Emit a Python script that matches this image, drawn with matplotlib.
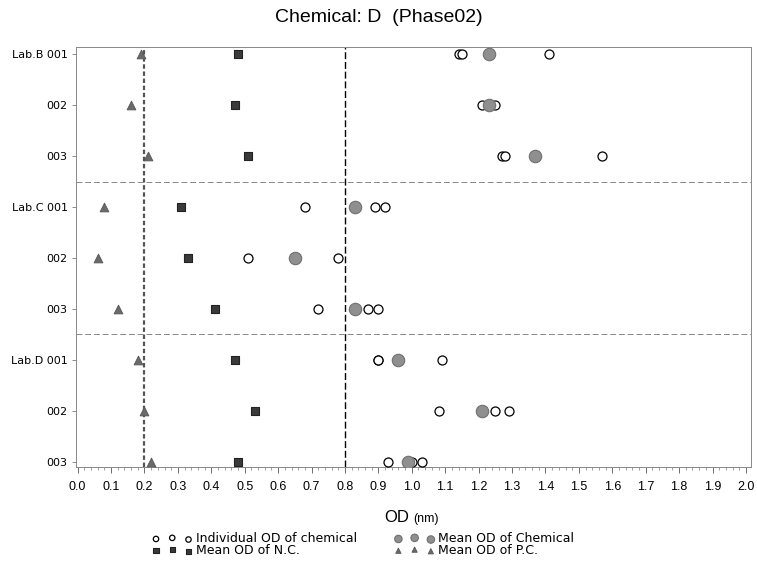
import matplotlib
matplotlib.use("Agg")
import matplotlib.pyplot as plt
from matplotlib.ticker import MultipleLocator

plt.rcParams['font.family'] = ['Liberation Sans', 'DejaVu Sans']

# rows (top to bottom)
row_labels = ["Lab.B 001", "002", "003",
              "Lab.C 001", "002", "003",
              "Lab.D 001", "002", "003"]

# individual OD of chemical, three per row
indiv_1 = [1.14, 1.21, 1.27, 0.68, 0.51, 0.72, 0.90, 1.08, 0.93]
indiv_2 = [1.15, 1.23, 1.28, 0.89, 0.65, 0.87, 0.90, 1.25, 1.00]
indiv_3 = [1.41, 1.25, 1.57, 0.92, 0.78, 0.90, 1.09, 1.29, 1.03]
mean_chem = [1.23, 1.23, 1.37, 0.83, 0.65, 0.83, 0.96, 1.21, 0.99]
mean_nc = [0.48, 0.47, 0.51, 0.31, 0.33, 0.41, 0.47, 0.53, 0.48]
mean_pc = [0.19, 0.16, 0.21, 0.08, 0.06, 0.12, 0.18, 0.20, 0.22]

ref_lines = [0.2, 0.8]
lab_breaks = [2.5, 5.5]

fig = plt.figure(figsize=(7.57, 5.63), dpi=100)
ax = fig.add_axes([0.1004, 0.1705, 0.8916, 0.746])

ypos = list(range(len(row_labels)))

ax.axvline(ref_lines[0], color='#555555', lw=1.6, ls=(0, (2, 1.2)), zorder=1)
ax.axvline(ref_lines[1], color='black', lw=1.0, ls=(0, (5, 2)), zorder=1)
for b in lab_breaks:
    ax.axhline(b, color='#888888', lw=0.7, ls=(0, (6, 3)), zorder=1)

h_ind = None
for vals in (indiv_1, indiv_2, indiv_3):
    h_ind = ax.scatter(vals, ypos, s=42, marker='o', facecolor='white',
                       edgecolor='black', linewidths=0.9, zorder=3,
                       label='Individual OD of chemical')
h_mean = ax.scatter(mean_chem, ypos, s=80, marker='o', facecolor='#8f8f8f',
                    edgecolor='#707070', linewidths=0.8, zorder=4,
                    label='Mean OD of Chemical')
h_nc = ax.scatter(mean_nc, ypos, s=40, marker='s', facecolor='#3a3a3a',
                  edgecolor='#222222', linewidths=0.8, zorder=4,
                  label='Mean OD of N.C.')
h_pc = ax.scatter(mean_pc, ypos, s=40, marker='^', facecolor='#6a6a6a',
                  edgecolor='#555555', linewidths=0.6, zorder=4,
                  label='Mean OD of P.C.')

ax.set_xlim(-0.005, 2.015)
ax.set_ylim(8.1, -0.14)
ax.set_xticks([i / 10 for i in range(21)])
ax.set_xticklabels([f"{i / 10:.1f}" for i in range(21)], fontsize=9)
ax.xaxis.set_minor_locator(MultipleLocator(0.02))
ax.set_yticks(ypos)
ax.set_yticklabels(row_labels, fontsize=8, family='DejaVu Sans')
ax.tick_params(axis='x', length=4, width=0.6, color='#555555', pad=6)
ax.tick_params(axis='x', which='minor', length=2, width=0.5, color='#777777')
ax.tick_params(axis='y', length=3, width=0.6, color='#777777', pad=3)

for sp in ax.spines.values():
    sp.set_color('#888888')
    sp.set_linewidth(0.7)
    sp.set_linestyle((0, (1, 1)))

fig.text(0.5, 1 - 17 / 563, "Chemical: D  (Phase02)", fontsize=14,
         ha='center', va='center')
fig.text(0.540, 1 - 518 / 563, "OD", fontsize=12, ha='right', va='center')
fig.text(0.546, 1 - 519 / 563, "(nm)", fontsize=9, ha='left', va='center')

fig.legend(handles=[h_ind, h_nc, h_mean, h_pc], ncol=2, frameon=False,
           scatterpoints=3, loc='upper left',
           bbox_to_anchor=(146 / 757, 1 - 526 / 563),
           prop={'family': 'DejaVu Sans', 'size': 9},
           handletextpad=0.3, columnspacing=3.0,
           labelspacing=-0.1, borderpad=0, handlelength=3.2,
           markerscale=0.6)

fig.savefig("out.png", dpi=100)
